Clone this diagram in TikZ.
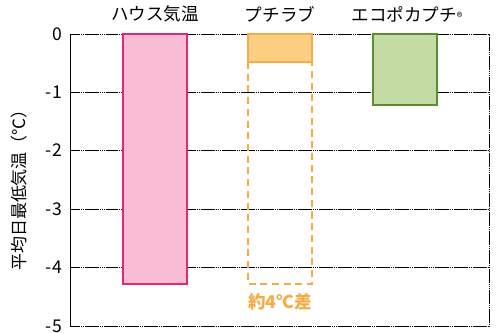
\documentclass[tikz,border=0pt]{standalone}
\usepackage{fontspec}
\setmainfont{Noto Sans CJK JP}
\definecolor{pinkfill}{RGB}{248,188,212}
\definecolor{pinkline}{RGB}{228,40,120}
\definecolor{orangefill}{RGB}{252,206,130}
\definecolor{orangeline}{RGB}{246,172,70}
\definecolor{greenfill}{RGB}{196,220,164}
\definecolor{greenline}{RGB}{92,140,52}
\tikzset{
  gridline/.style={black,line width=0.7pt,dash pattern=on 1.5pt off 0.3pt},
  ticklabel/.style={anchor=east,inner sep=0pt,font=\fontsize{15pt}{15pt}\selectfont},
  barlabel/.style={inner sep=0pt,font=\fontsize{15pt}{15pt}\selectfont},
}
\begin{document}
\begin{tikzpicture}[x=0.03cm,y=-0.03cm]
\useasboundingbox (0,0) rectangle (497,333);
%\draw[step=10,very thin,color=gray] (0,0) grid (497,333);
\draw[gridline] (70,92) -- (489,92);
\draw[gridline] (70,150) -- (489,150);
\draw[gridline] (70,209) -- (489,209);
\draw[gridline] (70,267) -- (489,267);
\draw[gridline] (70,34) -- (489,34) -- (489,326) -- (70,326);
\draw[black,line width=0.7pt] (70,34) -- (70,326);
% bars
\draw[fill=pinkfill,draw=pinkline,line width=1.2pt] (123,34) rectangle (187,284);
\draw[fill=orangefill,draw=orangeline,line width=1.2pt] (248,34) rectangle (312,62);
\draw[orangeline,line width=1.2pt,dash pattern=on 6pt off 4pt] (248,62) -- (248,284) -- (312,284) -- (312,62);
\draw[fill=greenfill,draw=greenline,line width=1.2pt] (373,34) rectangle (437,105);
% ticks
\node[ticklabel] (t0) at (62,34) {0};
\node[ticklabel] (t1) at (62,92) {-1};
\node[ticklabel] (t2) at (62,150) {-2};
\node[ticklabel] (t3) at (62,209) {-3};
\node[ticklabel] (t4) at (62,267) {-4};
\node[ticklabel] (t5) at (62,326) {-5};
\node[rotate=90,inner sep=0pt,font=\fontsize{14.5pt}{14.5pt}\selectfont] (ylab) at (19,186) {平均日最低気温（℃）};
% labels
\node[barlabel] (house) at (155,14) {ハウス気温};
\node[barlabel] (petit) at (280,14) {プチラブ};
\node[barlabel] (ecopo) at (407,14) {エコポカプチ{\fontsize{10pt}{10pt}\selectfont ®}};
\node[inner sep=0pt,text=orangeline,font=\bfseries\fontsize{15pt}{15pt}\selectfont] (diff) at (280,302) {約4℃差};
\end{tikzpicture}
\end{document}
